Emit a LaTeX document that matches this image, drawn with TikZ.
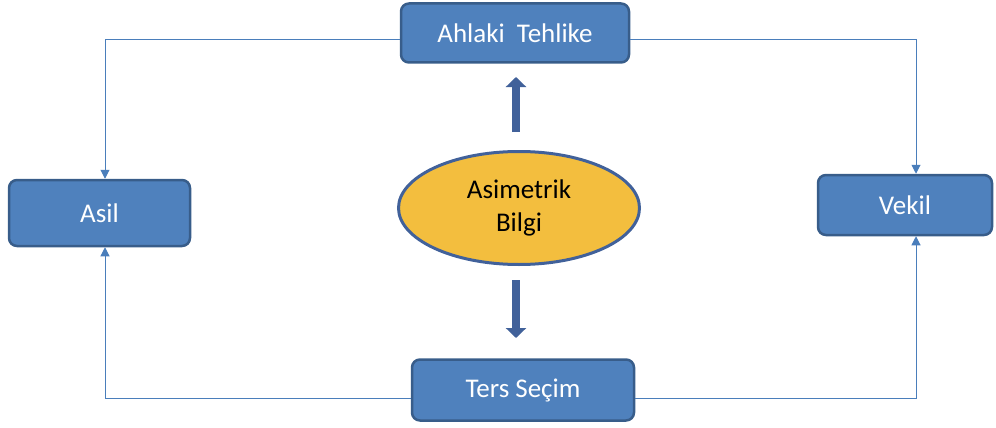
\documentclass[tikz,border=0pt]{standalone}
\usepackage{fontspec}
\setmainfont{Carlito}
\usetikzlibrary{arrows.meta,shapes.geometric}
\definecolor{boxfill}{HTML}{4F81BD}
\definecolor{boxline}{HTML}{385D8A}
\definecolor{ellfill}{HTML}{F3BE3E}
\definecolor{ellline}{HTML}{41619A}
\definecolor{thinline}{HTML}{4A7EBB}
\begin{document}
\begin{tikzpicture}[x=1pt,y=-1pt,
  bluebox/.style={draw=boxline, line width=2.5pt, fill=boxfill, rounded corners=8pt,
    text=white, font=\fontsize{27}{30}\selectfont, inner sep=0pt, anchor=center},
  thin/.style={draw=thinline, line width=1pt, -{Triangle[length=9pt,width=9pt]}},
  thick/.style={draw=ellline, line width=8pt, -{Triangle[length=10pt,width=20pt]}}]
\useasboundingbox (0,0) rectangle (996,428);
\node[bluebox, minimum width=228pt, minimum height=59pt] (ah) at (515,33) {Ahlaki\ \ Tehlike};
\node[bluebox, minimum width=181pt, minimum height=66pt] (as) at (99.5,213) {Asil};
\node[bluebox, minimum width=174pt, minimum height=60pt] (ve) at (905,205) {Vekil};
\node[bluebox, minimum width=222pt, minimum height=61pt] (ts) at (523,390) {Ters Seçim};
\node[ellipse, draw=ellline, line width=3pt, fill=ellfill, minimum width=241pt, minimum height=113pt,
  inner sep=0pt, align=center, font=\fontsize{27}{33}\selectfont] (el) at (519,208) {\raisebox{-3pt}{Asimetrik}\\\raisebox{-3pt}{Bilgi}};
\coordinate (c1) at (105,40);
\coordinate (c2) at (916,40);
\coordinate (c3) at (105,398);
\coordinate (c4) at (916,398);
\draw[thin] (ah.west |- c1) -- (c1) -- (c1 |- as.north);
\draw[thin] (ah.east |- c2) -- (c2) -- (c2 |- ve.north);
\draw[thin] (ts.west |- c3) -- (c3) -- (c3 |- as.south);
\draw[thin] (ts.east |- c4) -- (c4) -- (c4 |- ve.south);
\coordinate (u1) at (516,132);
\coordinate (u2) at (516,77);
\coordinate (d1) at (516,280);
\coordinate (d2) at (516,338);
\draw[thick] (u1) -- (u2);
\draw[thick] (d1) -- (d2);
\end{tikzpicture}
\end{document}
